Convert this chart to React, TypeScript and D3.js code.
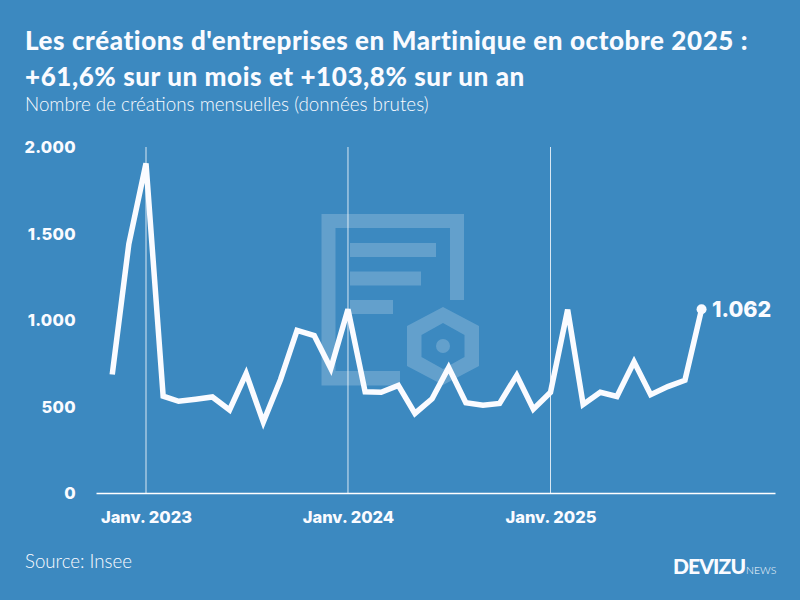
import * as React from 'react';
import { useRef, useEffect } from 'react';
import * as d3 from 'd3';

// one value per month, nov. 2022 to oct. 2025
const firstMonth = new Date(2022, 10, 1);
const values = [
  685, 1440, 1905, 560, 530, 542, 555, 480, 690, 410, 655, 940, 910, 720,
  1062, 585, 582, 622, 460, 545, 725, 522, 508, 518, 680, 485,
  582, 1060, 512, 582, 558, 758, 568, 615, 652, 1062,
];
const yTicks = [0, 500, 1000, 1500, 2000];
const xTicks = [new Date(2023, 0, 1), new Date(2024, 0, 1), new Date(2025, 0, 1)];
const xTickLabels = ['Janv. 2023', 'Janv. 2024', 'Janv. 2025'];
const titleLines = [
  "Les créations d'entreprises en Martinique en octobre 2025 :",
  '+61,6% sur un mois et +103,8% sur un an',
];
const subtitle = 'Nombre de créations mensuelles (données brutes)';

const BG = '#3c89c0';
const FG = '#fafbff';
const FONT = 'Lato, sans-serif';
const NUM_FONT = 'Inter, sans-serif';

const fr = d3.formatLocale({ decimal: ',', thousands: '.', grouping: [3], currency: ['', '€'] });
const fmt = fr.format(',d');

const App: React.FC = () => {
  const svgRef = useRef<SVGSVGElement>(null);

  useEffect(() => {
    if (!svgRef.current) return;
    const svg = d3.select(svgRef.current);
    svg.selectAll('*').remove();
    svg.style('font-family', FONT);

    svg.append('rect').attr('width', 800).attr('height', 600).attr('fill', BG);

    // watermark
    const mark = svg.append('g').attr('fill', '#fff').attr('fill-opacity', 0.2);
    mark.append('path')
      .attr('d', 'M450,300V228H335.5V371H400V385.5H321.5V214H464V300Z');
    [[350, 243, 86], [350, 271.5, 71], [350, 300, 43]].forEach(([x, y, w]) => {
      mark.append('rect').attr('x', x).attr('y', y).attr('width', w).attr('height', 14);
    });
    mark.append('path')
      .attr('fill-rule', 'evenodd')
      .attr('d', 'M443,307L479,326V366L443,385L407,366V326ZM443,323L421.5,335V357L443,369L464.5,357V335Z');
    mark.append('circle').attr('cx', 443).attr('cy', 346).attr('r', 7);

    const x = d3.scaleTime()
      .domain([new Date(2023, 0, 1), new Date(2025, 0, 1)])
      .range([146, 550.5]);
    x.domain([x.invert(96), x.invert(775)]).range([96, 775]);
    const y = d3.scaleLinear().domain([0, 2000]).range([493, 147]);

    // vertical gridlines
    svg.append('g').selectAll('line').data(xTicks).enter().append('line')
      .attr('x1', d => x(d)).attr('x2', d => x(d))
      .attr('y1', y(0)).attr('y2', y(2000))
      .attr('stroke', '#fff').attr('stroke-opacity', 0.8).attr('stroke-width', 1);

    // y axis
    const yAxis = svg.append('g')
      .attr('transform', 'translate(76,0.5)')
      .call(d3.axisLeft(y).tickValues(yTicks).tickSize(0).tickPadding(0).tickFormat(d => fmt(d as number)));
    yAxis.select('.domain').remove();
    yAxis.selectAll('text')
      .attr('fill', FG).attr('font-size', 16.5).attr('font-weight', 800)
      .attr('font-family', NUM_FONT).attr('letter-spacing', 0.3);

    // x axis
    const xAxis = svg.append('g')
      .attr('transform', `translate(0,${y(0)})`)
      .call(d3.axisBottom(x).tickValues(xTicks).tickSize(0).tickPadding(18)
        .tickFormat((_, i) => xTickLabels[i]));
    xAxis.select('.domain').attr('stroke', '#fff').attr('stroke-width', 1.5);
    xAxis.selectAll('text')
      .attr('fill', FG).attr('font-size', 16.5).attr('font-weight', 800)
      .attr('font-family', NUM_FONT);

    // series
    const months = values.map((_, i) => d3.timeMonth.offset(firstMonth, i));
    const line = d3.line<number>()
      .x((_, i) => x(months[i]))
      .y(d => y(d));
    svg.append('path')
      .datum(values)
      .attr('d', line)
      .attr('fill', 'none')
      .attr('stroke', FG)
      .attr('stroke-width', 5.5)
      .attr('stroke-linejoin', 'miter');

    const lastI = values.length - 1;
    const lastX = x(months[lastI]);
    const lastY = y(values[lastI]);
    svg.append('circle').attr('cx', lastX).attr('cy', lastY).attr('r', 5).attr('fill', FG);
    svg.append('text')
      .attr('x', lastX + 10.5).attr('y', lastY + 8)
      .attr('fill', FG).attr('font-size', 21.5).attr('font-weight', 800)
      .attr('font-family', NUM_FONT)
      .text(fmt(values[lastI]));

    // titles
    titleLines.forEach((t, i) => {
      svg.append('text')
        .attr('x', 25).attr('y', 49.5 + i * 36)
        .attr('fill', FG).attr('font-size', 26).attr('font-weight', 900)
        .attr('letter-spacing', 0.58)
        .text(t);
    });
    svg.append('text')
      .attr('x', 25).attr('y', 111)
      .attr('fill', FG).attr('font-size', 18.8).attr('font-weight', 300)
      .text(subtitle);

    svg.append('text')
      .attr('x', 25).attr('y', 568)
      .attr('fill', FG).attr('font-size', 18.7).attr('font-weight', 300)
      .text('Source: Insee');

    // logo
    svg.append('text')
      .attr('x', 673).attr('y', 573.5)
      .attr('fill', FG).attr('font-size', 21).attr('font-weight', 900)
      .attr('letter-spacing', -0.9)
      .text('DEVIZU');
    svg.append('text')
      .attr('x', 746).attr('y', 573.5)
      .attr('fill', FG).attr('font-size', 10.5).attr('font-weight', 300)
      .text('NEWS');
  }, []);

  return (
    <>
      <style>{'body{margin:0}'}</style>
      <svg ref={svgRef} width={800} height={600} style={{ display: 'block' }} />
    </>
  );
};

export default App;
